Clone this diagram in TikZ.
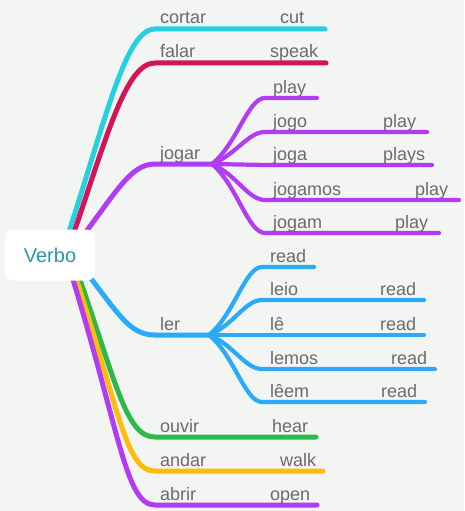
\documentclass[tikz,border=0pt]{standalone}
\usepackage{fontspec}
\setmainfont{Liberation Sans}
\definecolor{paper}{HTML}{F3F5F2}
\definecolor{wordgray}{HTML}{6B6B6B}
\definecolor{rootteal}{HTML}{2A96AC}
\definecolor{cutcyan}{HTML}{26CFE2}
\definecolor{speakred}{HTML}{D4145A}
\definecolor{playviolet}{HTML}{B23CF4}
\definecolor{readblue}{HTML}{2AABF9}
\definecolor{heargreen}{HTML}{2DB94A}
\definecolor{walkamber}{HTML}{FFBB0B}

\begin{document}
\begin{tikzpicture}[x=1pt,y=-1pt,
  branch/.style={line width=5pt, line cap=round},
  twig/.style={line width=4.2pt, line cap=round},
  word/.style={anchor=base west, inner sep=0pt, text=wordgray, font=\fontsize{18}{20}\selectfont}]
\fill[paper] (0,0) rectangle (464,511);
\coordinate (from-cortar) at (63,250);
\coordinate (from-falar) at (68,250);
\coordinate (from-jogar) at (76,245);
\coordinate (from-ler) at (78,262);
\coordinate (from-ouvir) at (73,260);
\coordinate (from-andar) at (70,260);
\coordinate (from-abrir) at (67,260);
\coordinate (cortar) at (155,29);
\coordinate (falar) at (155,63);
\coordinate (jogar) at (155,164);
\coordinate (ler) at (155,335);
\coordinate (ouvir) at (155,437);
\coordinate (andar) at (155,471);
\coordinate (abrir) at (155,505);
\coordinate (jogar-hub) at (212,164);
\coordinate (ler-hub) at (209,335);
\coordinate (play) at (265,98);
\coordinate (jogo) at (265,132);
\coordinate (joga) at (265,165);
\coordinate (jogamos) at (265,200);
\coordinate (jogam) at (265,233);
\coordinate (read) at (262,267);
\coordinate (leio) at (262,300);
\coordinate (le) at (262,335);
\coordinate (lemos) at (262,369);
\coordinate (leem) at (262,402);
\draw[branch,cutcyan] (from-cortar) .. controls +(43,-130) and +(-30,0) .. (cortar) -- (325,29);
\draw[branch,speakred] (from-falar) .. controls +(38,-110) and +(-30,0) .. (falar) -- (326,63);
\draw[branch,playviolet] (from-jogar) .. controls +(40,-52) and +(-25,0) .. (jogar) -- (jogar-hub);
\draw[twig,playviolet] (jogar-hub) .. controls +(25,-20) and +(-17,0) .. (play) -- (317,98);
\draw[twig,playviolet] (jogar-hub) .. controls +(25,-10) and +(-17,0) .. (jogo) -- (427,132);
\draw[twig,playviolet] (jogar-hub) -- (joga) -- (432,165);
\draw[twig,playviolet] (jogar-hub) .. controls +(25,11) and +(-17,0) .. (jogamos) -- (459,200);
\draw[twig,playviolet] (jogar-hub) .. controls +(25,21) and +(-17,0) .. (jogam) -- (439,233);
\draw[branch,readblue] (from-ler) .. controls +(40,50) and +(-27,0) .. (ler) -- (ler-hub);
\draw[twig,readblue] (ler-hub) .. controls +(25,-20) and +(-17,0) .. (read) -- (314,267);
\draw[twig,readblue] (ler-hub) .. controls +(25,-10) and +(-17,0) .. (leio) -- (424,300);
\draw[twig,readblue] (ler-hub) -- (le) -- (424,335);
\draw[twig,readblue] (ler-hub) .. controls +(25,10) and +(-17,0) .. (lemos) -- (435,369);
\draw[twig,readblue] (ler-hub) .. controls +(25,20) and +(-17,0) .. (leem) -- (425,402);
\draw[branch,heargreen] (from-ouvir) .. controls +(43,120) and +(-30,0) .. (ouvir) -- (316,437);
\draw[branch,walkamber] (from-andar) .. controls +(50,150) and +(-30,0) .. (andar) -- (323,471);
\draw[branch,playviolet] (from-abrir) .. controls +(53,170) and +(-30,0) .. (abrir) -- (317,505);
\node[fill=white, rounded corners=8pt, minimum width=90pt, minimum height=51pt, inner sep=0pt,
  text=rootteal, font=\fontsize{20}{22}\selectfont] (verbo) at (50,255) {Verbo};
\node[word] (cortar-pt) at (160,24) {cortar};
\node[word] (cortar-en) at (280,24) {cut};
\node[word] (falar-pt) at (160,58) {falar};
\node[word] (falar-en) at (270,58) {speak};
\node[word] (jogar-pt) at (160,159) {jogar};
\node[word] (play-en) at (273,93) {play};
\node[word] (jogo-pt) at (273,127) {jogo};
\node[word] (jogo-en) at (383,127) {play};
\node[word] (joga-pt) at (273,160) {joga};
\node[word] (joga-en) at (383,160) {plays};
\node[word] (jogamos-pt) at (273,195) {jogamos};
\node[word] (jogamos-en) at (415,195) {play};
\node[word] (jogam-pt) at (273,228) {jogam};
\node[word] (jogam-en) at (395,228) {play};
\node[word] (ler-pt) at (160,330) {ler};
\node[word] (read-en) at (270,262) {read};
\node[word] (leio-pt) at (270,295) {leio};
\node[word] (leio-en) at (380,295) {read};
\node[word] (le-pt) at (270,330) {lê};
\node[word] (le-en) at (380,330) {read};
\node[word] (lemos-pt) at (270,364) {lemos};
\node[word] (lemos-en) at (391,364) {read};
\node[word] (leem-pt) at (270,397) {lêem};
\node[word] (leem-en) at (381,397) {read};
\node[word] (ouvir-pt) at (160,432) {ouvir};
\node[word] (ouvir-en) at (272,432) {hear};
\node[word] (andar-pt) at (160,466) {andar};
\node[word] (andar-en) at (280,466) {walk};
\node[word] (abrir-pt) at (160,500) {abrir};
\node[word] (abrir-en) at (270,500) {open};
\end{tikzpicture}
\end{document}
